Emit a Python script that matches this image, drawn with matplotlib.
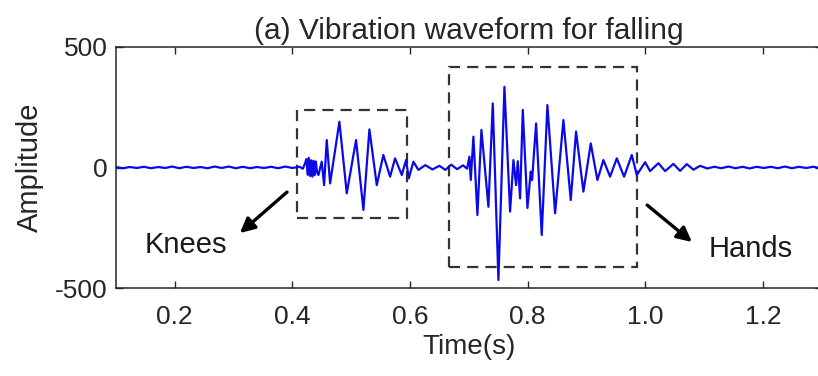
import matplotlib
matplotlib.use("Agg")
import matplotlib.pyplot as plt
from matplotlib.patches import Rectangle

plt.rcParams['font.family'] = ['Liberation Sans', 'DejaVu Sans']

# ---- data (time in s, amplitude) ----
quiet_left_t = [0.100, 0.112, 0.124, 0.136, 0.148, 0.160, 0.172, 0.184, 0.196, 0.208,
                0.220, 0.232, 0.244, 0.256, 0.268, 0.280, 0.292, 0.304, 0.316, 0.328,
                0.340, 0.352, 0.364, 0.376, 0.388, 0.400, 0.412, 0.418]
quiet_left_a = [2, -3, 2, -2, 3, -3, 2, -2, 4, -3,
                3, -2, 2, -3, 4, -2, 4, -3, 3, -3,
                2, -2, 3, -3, 4, -2, 3, -5]

knees_t = [0.422, 0.424, 0.426, 0.428, 0.430, 0.432, 0.434, 0.436, 0.438, 0.440, 0.442,
           0.4443, 0.4500, 0.4540, 0.4585, 0.4642, 0.4800, 0.4925, 0.5083, 0.5208,
           0.5310, 0.5435, 0.5547, 0.5661, 0.5746, 0.5860, 0.5933, 0.5979, 0.6057, 0.6142]
knees_a = [20, 35, -30, 40, -35, 30, -38, 28, -32, 25, -20,
           -31, 24, -73, 114, -66, 190, -107, 114, -176,
           158, -73, 52, -38, 38, -31, 31, -45, 24, -10]

gap_t = [0.626, 0.638, 0.650, 0.660, 0.670, 0.680, 0.690, 0.697]
gap_a = [10, -8, 7, -10, 12, -7, 9, -5]

hands_t = [0.7009, 0.7032, 0.7077, 0.7145, 0.7213, 0.7332, 0.7406, 0.7502, 0.7604,
           0.7700, 0.7757, 0.7802, 0.7831, 0.7870, 0.7916, 0.7995, 0.8051, 0.8074,
           0.8142, 0.8238, 0.8334, 0.8465, 0.8606, 0.8731, 0.8821, 0.8946, 0.9071,
           0.9184, 0.9286, 0.9399, 0.9513, 0.9637, 0.9768, 0.9853]
hands_a = [45, -52, 128, -197, 156, -163, 266, -467, 335,
           -183, 31, -73, 26, -128, 239, -168, -17, -52,
           183, -280, 259, -190, 197, -135, 149, -100, 100,
           -52, 31, -38, 38, -38, 52, -31]

quiet_right_t = [0.9994, 1.0079, 1.0221, 1.0334, 1.0475, 1.0589, 1.0703, 1.0815, 1.0929,
                 1.105, 1.117, 1.129, 1.141, 1.153, 1.165, 1.177, 1.189, 1.201, 1.213,
                 1.225, 1.237, 1.249, 1.261, 1.273, 1.285, 1.297, 1.310]
quiet_right_a = [22, -15, 18, -15, 15, -14, 14, -9, 7,
                 -4, 3, -3, 4, -3, 3, -4, 3, -2, 3,
                 -3, 4, -3, 3, -2, 3, -2, 2]

time = quiet_left_t + knees_t + gap_t + hands_t + quiet_right_t
amplitude = quiet_left_a + knees_a + gap_a + hands_a + quiet_right_a

x_ticks = [0.2, 0.4, 0.6, 0.8, 1.0, 1.2]
x_ticklabels = ['0.2', '0.4', '0.6', '0.8', '1.0', '1.2']
y_ticks = [-500, 0, 500]
y_ticklabels = ['-500', '0', '500']

knees_box = (0.408, -209, 0.595, 239)   # t0, a0, t1, a1
hands_box = (0.666, -413, 0.986, 417)

# ---- figure ----
fig = plt.figure(figsize=(8.18, 3.76), dpi=100)
ax = fig.add_axes([0.1415, 0.234, 0.8634, 0.641])

ax.plot(time, amplitude, color='#0a0ae6', lw=1.6, zorder=3, solid_joinstyle='round')

for (t0, a0, t1, a1) in (knees_box, hands_box):
    ax.add_patch(Rectangle((t0, a0), t1 - t0, a1 - a0, fill=False,
                           edgecolor='#333333', lw=1.6, linestyle=(0, (5, 3.2)),
                           zorder=2))

arrow_kw = dict(arrowstyle='-|>', lw=2.4, color='black', mutation_scale=22,
                shrinkA=0, shrinkB=0)
ax.annotate('', xy=(0.311, -272), xytext=(0.391, -102), arrowprops=arrow_kw)
ax.annotate('', xy=(1.079, -309), xytext=(1.003, -156), arrowprops=arrow_kw)

ax.text(0.2196, -355, 'Knees', ha='center', va='baseline', fontsize=21, color='#1a1a1a')
ax.text(1.178, -371, 'Hands', ha='center', va='baseline', fontsize=21, color='#1a1a1a')

ax.set_xlim(0.1, 1.3)
ax.set_ylim(-500, 500)
ax.set_xticks(x_ticks)
ax.set_xticklabels(x_ticklabels)
ax.set_yticks(y_ticks)
ax.set_yticklabels(y_ticklabels)

ax.tick_params(axis='both', direction='in', length=5, width=1, colors='#262626',
               labelsize=19, top=True, right=True)
ax.tick_params(axis='x', pad=12)
ax.tick_params(axis='y', pad=6)
for s in ax.spines.values():
    s.set_color('#262626')
    s.set_linewidth(1.1)

ax.set_title('(a) Vibration waveform for falling', fontsize=21.5, color='#262626', pad=6)
ax.set_xlabel('Time(s)', fontsize=20, color='#262626', labelpad=4)
ax.set_ylabel('Amplitude', fontsize=21, color='#262626', labelpad=8)

fig.savefig('out.png', dpi=100)
